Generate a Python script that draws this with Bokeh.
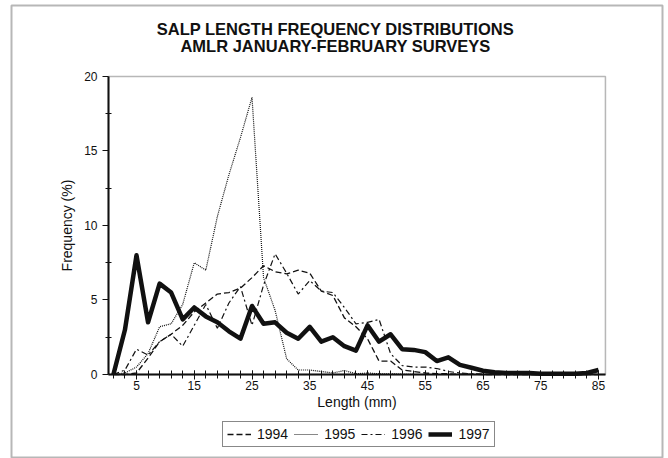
from bokeh.plotting import figure
from bokeh.models import (Range1d, FixedTicker, Legend, LegendItem, Label,
                          BoxAnnotation, ColumnDataSource)
from bokeh.embed import file_html
from bokeh.resources import INLINE

# Salp length classes (mm), 2 mm bins
length_mm = [1, 3, 5, 7, 9, 11, 13, 15, 17, 19, 21, 23, 25, 27, 29, 31, 33, 35,
             37, 39, 41, 43, 45, 47, 49, 51, 53, 55, 57, 59, 61, 63, 65, 67, 69,
             71, 73, 75, 77, 79, 81, 83, 85]

# Length frequency (%) by survey year
freq_1994 = [0.0, 0.0, 0.1, 1.1, 2.2, 2.7, 3.3, 4.2, 4.8, 5.4, 5.5, 5.8, 6.5,
             7.3, 6.9, 6.75, 7.0, 6.8, 5.6, 5.3, 3.8, 3.2, 2.4, 0.9, 0.9, 0.3,
             0.2, 0.1, 0.05, 0.05, 0.02, 0.02, 0.0, 0.0, 0.0, 0.0, 0.0, 0.0,
             0.0, 0.0, 0.0, 0.0, 0.0]
freq_1995 = [0.0, 0.1, 0.5, 1.4, 3.2, 3.4, 4.7, 7.5, 7.0, 10.6, 13.4, 15.9,
             18.6, 6.5, 4.3, 1.05, 0.3, 0.3, 0.2, 0.1, 0.27, 0.05, 0.1, 0.05,
             0.05, 0.02, 0.0, 0.0, 0.0, 0.0, 0.0, 0.0, 0.0, 0.0, 0.0, 0.0, 0.0,
             0.0, 0.0, 0.0, 0.0, 0.0, 0.0]
freq_1996 = [0.0, 0.3, 1.7, 1.3, 2.2, 2.7, 1.9, 3.3, 4.7, 3.1, 4.8, 5.9, 3.3,
             6.0, 8.1, 6.8, 5.4, 6.3, 5.6, 5.5, 4.5, 3.4, 3.5, 3.7, 1.4, 0.6,
             0.5, 0.5, 0.4, 0.2, 0.1, 0.05, 0.02, 0.0, 0.0, 0.0, 0.0, 0.0, 0.0,
             0.0, 0.0, 0.0, 0.0]
freq_1997 = [0.0, 3.0, 8.0, 3.5, 6.1, 5.5, 3.7, 4.5, 3.9, 3.5, 2.9, 2.4, 4.6,
             3.4, 3.5, 2.8, 2.4, 3.2, 2.2, 2.5, 1.9, 1.6, 3.3, 2.2, 2.7, 1.7,
             1.65, 1.5, 0.9, 1.15, 0.65, 0.45, 0.25, 0.15, 0.1, 0.1, 0.1, 0.05,
             0.05, 0.05, 0.05, 0.1, 0.3]

years = ["1994", "1995", "1996", "1997"]
x_major = [5, 15, 25, 35, 45, 55, 65, 75, 85]
y_major = [0, 5, 10, 15, 20]
y_minor = [2.5, 7.5, 12.5, 17.5]

# plotted extent of the axes
x_lo, x_hi = 0.15, 86.2
y_lo, y_hi = 0, 20

FONT = "Liberation Sans"
INK = "#111111"
W, H = 668, 458

src = ColumnDataSource(dict(x=length_mm, y94=freq_1994, y95=freq_1995,
                            y96=freq_1996, y97=freq_1997))

# The frame fills the whole canvas; the axes sit at fixed positions inside it
# so that the titles, legend and outer box can be placed freely around them.
p = figure(width=W, height=H, output_backend="svg", toolbar_location=None,
           x_range=Range1d(-18.55, 97.12), y_range=Range1d(-5.638, 25.1),
           min_border_left=0, min_border_right=0,
           min_border_top=0, min_border_bottom=0)

p.xgrid.visible = False
p.ygrid.visible = False
p.outline_line_color = None
p.background_fill_color = "white"
p.border_fill_color = "white"

# series
r94 = p.line("x", "y94", source=src, line_color=INK, line_width=1.3,
             line_dash="6 3")
r95 = p.line("x", "y95", source=src, line_color=INK, line_width=1.2,
             line_dash="1 1")
r96 = p.line("x", "y96", source=src, line_color=INK, line_width=1.2,
             line_dash="6 3 2 3")
r97 = p.line("x", "y97", source=src, line_color=INK, line_width=4.5,
             line_join="round")

# box around the plotting area
p.add_layout(BoxAnnotation(left=x_lo, right=x_hi, bottom=y_lo, top=y_hi,
                           fill_alpha=0, line_color=INK, line_width=1.5))

# x axis
xa = p.xaxis[0]
xa.fixed_location = y_lo
xa.bounds = (x_lo, x_hi)
xa.ticker = FixedTicker(ticks=x_major, minor_ticks=length_mm)
xa.axis_label = "Length (mm)"
xa.axis_line_color = INK
xa.axis_line_width = 2
xa.major_tick_in = 4
xa.major_tick_out = 5
xa.minor_tick_in = 4
xa.minor_tick_out = 4
xa.major_tick_line_color = INK
xa.minor_tick_line_color = INK
xa.major_label_standoff = 2
xa.major_label_text_font = FONT
xa.major_label_text_font_size = "12px"
xa.major_label_text_color = INK
xa.axis_label_text_font = FONT
xa.axis_label_text_font_size = "14px"
xa.axis_label_text_font_style = "normal"
xa.axis_label_text_color = INK
xa.axis_label_standoff = 0

# y axis
ya = p.yaxis[0]
ya.fixed_location = x_lo
ya.bounds = (y_lo, y_hi)
ya.ticker = FixedTicker(ticks=y_major, minor_ticks=y_minor)
ya.axis_label = "Frequency (%)"
ya.axis_line_color = INK
ya.axis_line_width = 2
ya.major_tick_in = 0
ya.major_tick_out = 6
ya.minor_tick_in = 3
ya.minor_tick_out = 3
ya.major_tick_line_color = INK
ya.minor_tick_line_color = INK
ya.major_label_standoff = 5
ya.major_label_text_font = FONT
ya.major_label_text_font_size = "12px"
ya.major_label_text_color = INK
ya.axis_label_text_font = FONT
ya.axis_label_text_font_size = "14px"
ya.axis_label_text_font_style = "normal"
ya.axis_label_text_color = INK
ya.axis_label_standoff = 6

# title, two centred lines (screen units from the lower left corner)
for txt, yy in [("SALP LENGTH FREQUENCY DISTRIBUTIONS", H - 28),
                ("AMLR JANUARY-FEBRUARY SURVEYS", H - 45)]:
    p.add_layout(Label(x=335, y=yy, x_units="screen", y_units="screen",
                       text=txt, text_align="center",
                       text_baseline="alphabetic", text_font=FONT,
                       text_font_size="16.5px", text_font_style="bold",
                       text_color=INK))

# outer frame around the whole chart
p.add_layout(BoxAnnotation(left=11, right=662, top=H - 5, bottom=H - 457,
                           left_units="screen", right_units="screen",
                           top_units="screen", bottom_units="screen",
                           fill_alpha=0, line_color=INK, line_width=2))

legend = Legend(items=[LegendItem(label=y, renderers=[r])
                       for y, r in zip(years, [r94, r95, r96, r97])],
                orientation="horizontal", location=(222, H - 447),
                glyph_width=24, glyph_height=16, label_height=16,
                label_standoff=6, spacing=6, padding=4, margin=0,
                label_text_font=FONT, label_text_font_size="14px",
                label_text_color=INK, border_line_color=INK,
                border_line_width=1.5, background_fill_alpha=0)
p.add_layout(legend, "center")

open("out.html", "w").write(file_html(p, INLINE))
